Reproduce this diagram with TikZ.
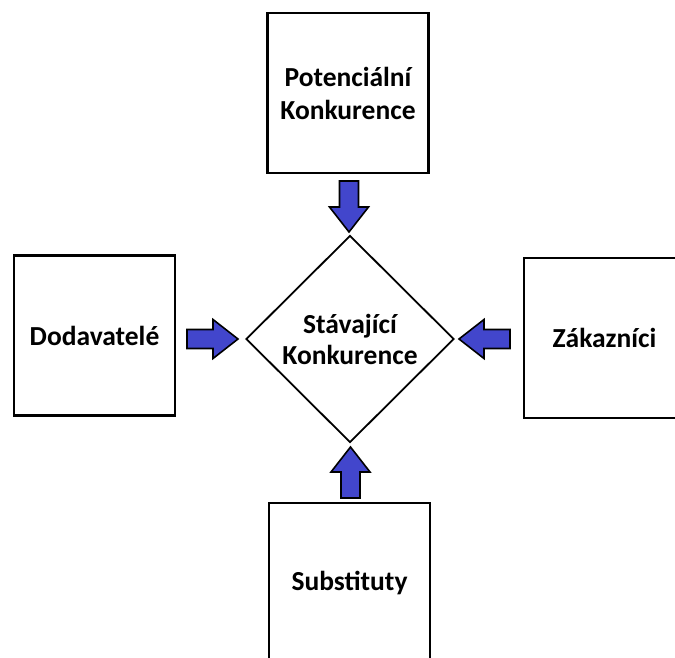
\documentclass[tikz,border=0pt]{standalone}
\usepackage{fontspec}
\setmainfont{Carlito}
\usetikzlibrary{shapes.geometric}
\definecolor{arrowblue}{RGB}{66,70,204}
\tikzset{
  box/.style={draw=black, line width=2.6pt, fill=white, minimum width=161pt, minimum height=160pt, inner sep=0pt, align=center, font=\fontsize{27.5}{33}\selectfont\bfseries},
  dia/.style={draw=black, line width=1.8pt, fill=white, diamond, aspect=1, inner sep=0pt, minimum width=208pt, minimum height=207pt, align=center, font=\fontsize{27.5}{31}\selectfont\bfseries},
  blockarrow/.pic={
    \draw[line width=1.6pt, fill=arrowblue, line join=miter]
      (0,-9.5) -- (26,-9.5) -- (26,-19.5) -- (51,0) -- (26,19.5) -- (26,9.5) -- (0,9.5) -- cycle;
  }
}
\begin{document}
\begin{tikzpicture}[x=1pt,y=-1pt]
\useasboundingbox (0,0) rectangle (675,657);
\node[box] (pot) at (348,93) {Potenciální\\Konkurence};
\node[box] (dod) at (94.5,335.5) {Dodavatelé};
\node[box] (zak) at (604.5,338) {Zákazníci};
\node[box] (sub) at (349.5,583) {Substituty};
\node[dia] (sta) at (350,339) {Stávající\\Konkurence};
\pic at (349,181) [rotate=-90] {blockarrow};
\pic at (187,339) {blockarrow};
\pic at (510,339) [rotate=180] {blockarrow};
\pic at (350.5,498) [rotate=90] {blockarrow};
\end{tikzpicture}
\end{document}
